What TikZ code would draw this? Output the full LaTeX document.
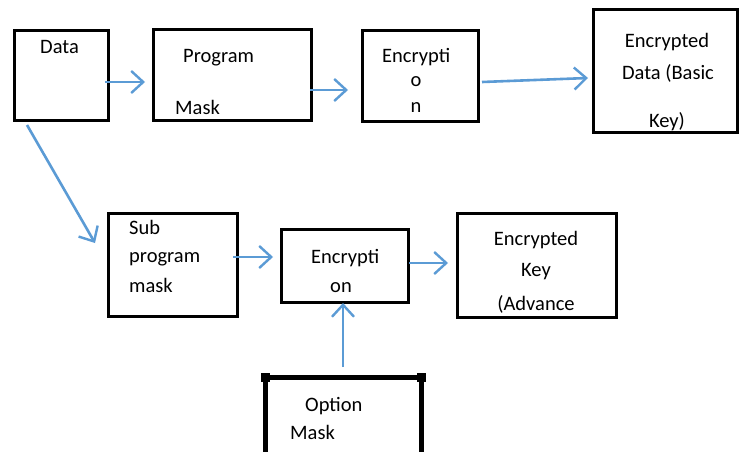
\documentclass[tikz,border=0pt]{standalone}
\usepackage{fontspec}
\setmainfont{Carlito}
\usetikzlibrary{arrows.meta,calc}
\definecolor{arrowblue}{RGB}{91,155,213}
\begin{document}
\begin{tikzpicture}[x=1pt,y=-1pt,
  box/.style={draw=black,line width=3pt,rectangle,inner sep=0pt,outer sep=0pt},
  lbl/.style={inner sep=0pt,font=\fontsize{20.5}{24}\selectfont},
  arr/.style={draw=arrowblue,line width=2.6pt,-{Straight Barb[length=12pt,width=22pt,line width=2.4pt]}}]
\useasboundingbox (0,0) rectangle (742,452);
\clip (0,0) rectangle (742,452);
\fill[white] (0,0) rectangle (742,452);

% boxes
\node[box,minimum width=94pt,minimum height=89pt] (data) at (61,75.5) {};
\node[box,minimum width=158pt,minimum height=90pt] (prog) at (232,75) {};
\node[box,minimum width=116pt,minimum height=90pt] (enca) at (420,76) {};
\node[box,minimum width=144pt,minimum height=122pt] (encdata) at (665,71) {};
\node[box,minimum width=129pt,minimum height=103pt] (sub) at (172.5,264.5) {};
\node[box,minimum width=127pt,minimum height=73pt] (encb) at (344.5,265.5) {};
\node[box,minimum width=159pt,minimum height=104pt] (enckey) at (536.5,265) {};
\node[box,line width=5pt,minimum width=156pt,minimum height=78pt] (option) at (343,416) {};
\fill ([shift={(-4.5,-4.5)}]option.north west) rectangle +(9,9);
\fill ([shift={(-4.5,-4.5)}]option.north east) rectangle +(9,9);

% labels
\node[lbl,anchor=base west] (tdata) at (40,54) {Data};
\node[lbl,anchor=base west] (tprog) at (183,63) {Program};
\node[lbl,anchor=base west] (tmask) at (175,114) {Mask};
\node[lbl,anchor=base west] (tenca) at (382,63) {Encrypti};
\node[lbl,anchor=base] (tencb) at (416,87) {o};
\node[lbl,anchor=base] (tencc) at (416,113) {n};
\node[lbl,anchor=base] (tedA) at (667,48) {Encrypted};
\node[lbl,anchor=base] (tedB) at (668,80) {Data (Basic};
\node[lbl,anchor=base] (tedC) at (667,127) {Key)};
\node[lbl,anchor=base west] (tsubA) at (129,234) {Sub};
\node[lbl,anchor=base west] (tsubB) at (129,262) {program};
\node[lbl,anchor=base west] (tsubC) at (129,292) {mask};
\node[lbl,anchor=base west] (tencbA) at (311,263) {Encrypti};
\node[lbl,anchor=base] (tencbB) at (341,292) {on};
\node[lbl,anchor=base] (tekA) at (536,245) {Encrypted};
\node[lbl,anchor=base] (tekB) at (536,276) {Key};
\node[lbl,anchor=base] (tekC) at (536,310) {(Advance};
\node[lbl,anchor=base west] (toptA) at (305,411) {Option};
\node[lbl,anchor=base west] (toptB) at (290,439) {Mask};

% connectors
\draw[arr] ($(data.east)+(-3,6.5)$) -- ($(prog.west)+(-8,7)$);
\draw[arr] ($(prog.east)+(-1,15)$) -- ($(enca.west)+(-14,14)$);
\draw[arr] ($(enca.east)+(4,6)$) -- ($(encdata.west)+(-5,7)$);
\draw[arr] ($(data.south)+(-34,5)$) -- ($(sub.west)+(-13,-21.5)$);
\draw[arr] ($(sub.east)+(-4,-7.5)$) -- ($(encb.west)+(-8,-8.5)$);
\draw[arr] ($(encb.east)+(1,-2.5)$) -- ($(enckey.west)+(-9,-2)$);
\draw[arr] ($(option.north)+(0,-10)$) -- ($(encb.south)+(-1.5,1)$);
\end{tikzpicture}
\end{document}
